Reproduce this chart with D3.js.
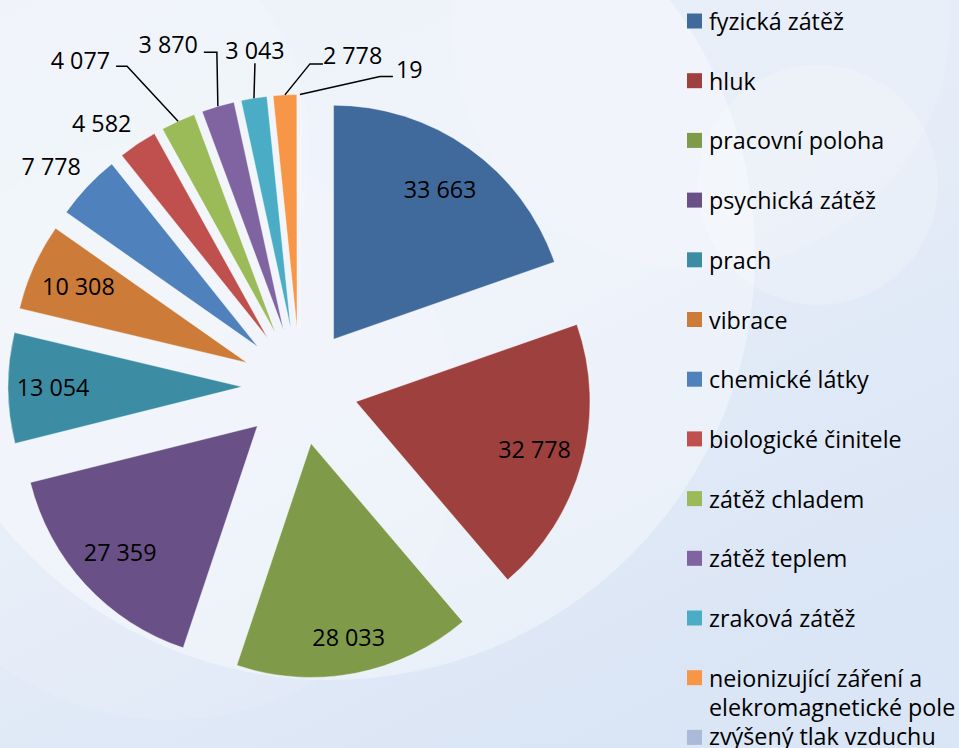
<!DOCTYPE html>
<html><head><meta charset="utf-8">
<script src="https://cdn.jsdelivr.net/npm/d3@7"></script>
<style>html,body{margin:0;padding:0;overflow:hidden;background:#e4ecf7}svg{display:block}</style>
</head><body>
<script>
const categories = ["fyzická zátěž","hluk","pracovní poloha","psychická zátěž","prach","vibrace","chemické látky","biologické činitele","zátěž chladem","zátěž teplem","zraková zátěž","neionizující záření a elekromagnetické pole","zvýšený tlak vzduchu"];
const values = [33663,32778,28033,27359,13054,10308,7778,4582,4077,3870,3043,2778,19];
const valueLabels = ["33 663","32 778","28 033","27 359","13 054","10 308","7 778","4 582","4 077","3 870","3 043","2 778","19"];
const colors = ["#416a9c","#9e413e","#7f9b49","#695086","#3c8da3","#cc7b38","#4f81bd","#c0504d","#9bbb59","#8064a2","#4bacc6","#f79646","#aabad8"];

const W = 959, H = 748;
const cx = 300, cy = 386.5, R = 234, explode = 58;
const FONT = "'Open Sans', 'Noto Sans', sans-serif";
const FS = "23.3px";

const svg = d3.select("body").append("svg").attr("width", W).attr("height", H);
const defs = svg.append("defs");
const bg = defs.append("linearGradient").attr("id","bg").attr("x1","0").attr("y1","0").attr("x2","0.6").attr("y2","1");
bg.append("stop").attr("offset","0").attr("stop-color","#e3ebf6");
bg.append("stop").attr("offset","0.5").attr("stop-color","#e6edf8");
bg.append("stop").attr("offset","1").attr("stop-color","#dae5f5");
svg.append("rect").attr("width",W).attr("height",H).attr("fill","url(#bg)");
// faint decorative circles
const circ = [[330,255,425,0.38],[818,185,120,0.2],[700,20,250,0.14],[60,150,250,0.16],[170,430,290,0.12]];
svg.selectAll("circle.deco").data(circ).enter().append("circle")
  .attr("cx",d=>d[0]).attr("cy",d=>d[1]).attr("r",d=>d[2])
  .attr("fill","#ffffff").attr("fill-opacity",d=>d[3]);

const pie = d3.pie().sort(null).value(d=>d)(values);
const arc = d3.arc().innerRadius(0).outerRadius(R);
function dir(d){ const a=(d.startAngle+d.endAngle)/2; return [Math.sin(a), -Math.cos(a)]; }

const g = svg.append("g").attr("transform",`translate(${cx},${cy})`);
const slices = g.selectAll("g.slice").data(pie).enter().append("g")
  .attr("transform", d=>{const [x,y]=dir(d); return `translate(${x*explode},${y*explode})`;});
slices.append("path").attr("d", arc).attr("fill",(d,i)=>colors[i])
  .attr("stroke","rgba(255,255,255,0.5)").attr("stroke-width",0.8);

// label layout
const labelMode = ["in","in","in","in","in","in","out","out","lead","lead","lead","lead","lead"];
const insideR = [184,185,198,187,189,185];
const outOffset = [-36,-20];
const leaderLayout = {
  8: {bend:[-51,-55], end:[-62,-55], anchor:"end", tdx:-6, tdy:-6},
  9: {bend:[-1,-54], end:[-14,-54], anchor:"end", tdx:-6, tdy:-8},
  10:{bend:[1,-35], end:[1,-35], anchor:"middle", tdx:0, tdy:-13},
  11:{bend:[25,-31], end:[38,-31], anchor:"start", tdx:0, tdy:-8},
  12:{bend:[80,-18], end:[93,-18], anchor:"start", tdx:3, tdy:-7}
};

function addLabel(x,y,anchor,t){
  g.append("text").attr("x",x).attr("y",y).attr("dy","0.36em")
    .attr("text-anchor",anchor)
    .style("font-family",FONT).style("font-size",FS).attr("fill","#000").text(t);
}

pie.forEach((d,i)=>{
  const [ux,uy] = dir(d);
  const ox = ux*explode, oy = uy*explode;
  const px = ox+ux*R, py = oy+uy*R;
  if(labelMode[i]==="in"){
    addLabel(ox+ux*insideR[i], oy+uy*insideR[i], "middle", valueLabels[i]);
  } else if(labelMode[i]==="out"){
    addLabel(px+outOffset[0], py+outOffset[1], "middle", valueLabels[i]);
  } else {
    const L = leaderLayout[i];
    const bx = px+L.bend[0], by = py+L.bend[1];
    const ex = px+L.end[0], ey = py+L.end[1];
    g.append("path").attr("d",`M${px},${py}L${bx},${by}L${ex},${ey}`)
      .attr("fill","none").attr("stroke","#000").attr("stroke-width",1.5);
    addLabel(ex+L.tdx, ey+L.tdy, L.anchor, valueLabels[i]);
  }
});

// legend
const legX = 687, legY0 = 21, legStep = 59.7, sq = 15;
const leg = svg.append("g");
categories.forEach((c,i)=>{
  const y = legY0 + i*legStep;
  leg.append("rect").attr("x",legX).attr("y",y-sq/2).attr("width",sq).attr("height",sq).attr("fill",colors[i]);
  const lines = i===11 ? ["neionizující záření a","elekromagnetické pole"] : [c];
  const ty = i===12 ? y-1 : y;
  lines.forEach((t,k)=>{
    leg.append("text").attr("x",legX+22).attr("y",ty+k*29.5).attr("dominant-baseline","central")
      .style("font-family",FONT).style("font-size",FS).attr("fill","#000").text(t);
  });
});
</script>
</body></html>
